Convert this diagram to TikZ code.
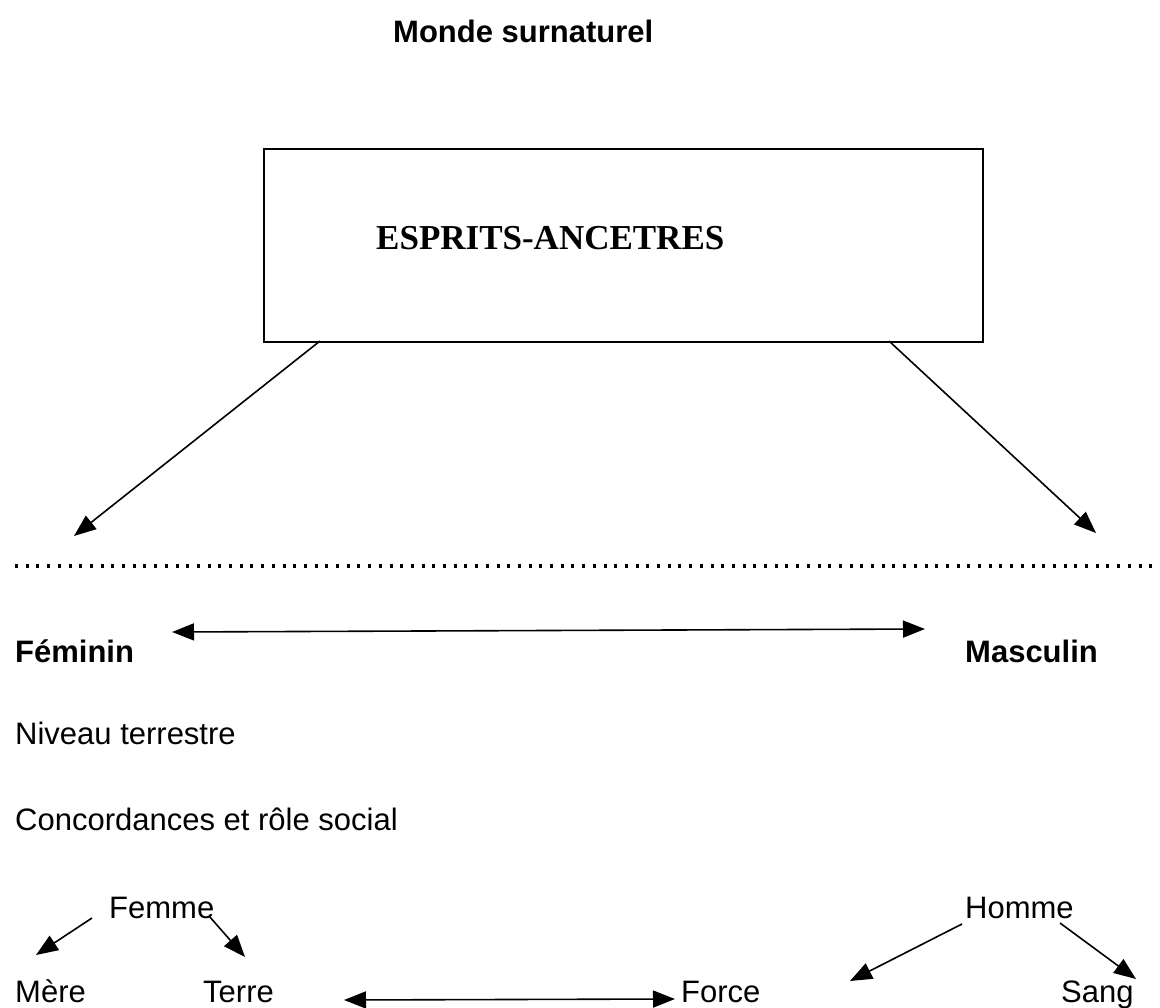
\documentclass[tikz,border=0pt]{standalone}
\usepackage{fontspec}
\setmainfont{Liberation Sans}
\newfontfamily\timesfont{Liberation Serif}
\usetikzlibrary{arrows.meta}
\begin{document}
\begin{tikzpicture}[x=1pt,y=-1pt,
  txt/.style={anchor=base west,inner sep=0pt,font=\fontsize{31}{36}\selectfont},
  btxt/.style={txt,font=\fontsize{31}{36}\selectfont\bfseries},
  arr/.style={line width=1.6pt,-{Triangle[length=22pt,width=17pt]}},
  darr/.style={line width=1.6pt,{Triangle[length=22pt,width=17pt]}-{Triangle[length=22pt,width=17pt]}},
  boxstyle/.style={draw,line width=1.8pt,minimum width=719pt,minimum height=193pt,inner sep=0pt,anchor=north west}]
\useasboundingbox (0,0) rectangle (1160,1008);
\fill[white] (0,0) rectangle (1160,1008);
% title
\node[btxt] (title) at (393,43) {Monde surnaturel};
% box
\node[boxstyle] (box) at (263,148) {};
\node[anchor=base west,inner sep=0pt,font=\timesfont\bfseries\fontsize{35}{40}\selectfont] (esprits) at (376,250) {ESPRITS-ANCETRES};
\coordinate (bl) at (320,341);
\coordinate (br) at (889,341);
\coordinate (fe) at (74,536);
\coordinate (ma) at (1096,533);
\draw[arr] (bl) -- (fe);
\draw[arr] (br) -- (ma);
% dotted line
\coordinate (d1) at (15,566);
\coordinate (d2) at (1160,566);
\draw[line width=3.5pt,dash pattern=on 3pt off 7.7pt] (d1) -- (d2);
% feminin / masculin
\node[btxt] (fem) at (15,662) {Féminin};
\node[btxt] (mas) at (965,662) {Masculin};
\coordinate (da) at (172,632);
\coordinate (db) at (925,629);
\draw[darr] (da) -- (db);
% level texts
\node[txt] (niv) at (15,744) {Niveau terrestre};
\node[txt] (conc) at (15,830) {Concordances et rôle social};
% bottom
\node[txt] (femme) at (109,918) {Femme};
\node[txt] (homme) at (965,918) {Homme};
\node[txt] (mere) at (15,1002) {Mère};
\node[txt] (terre) at (203,1002) {Terre};
\node[txt] (force) at (681,1002) {Force};
\node[txt] (sang) at (1061,1002) {Sang};
\coordinate (f1) at (92,918);
\coordinate (f1t) at (36,955);
\coordinate (f2) at (209,916);
\coordinate (f2t) at (245,957);
\draw[arr] (f1) -- (f1t);
\draw[arr] (f2) -- (f2t);
\coordinate (ta) at (344,1000);
\coordinate (tb) at (675,999);
\draw[darr] (ta) -- (tb);
\coordinate (h1) at (962,924);
\coordinate (h1t) at (850,981);
\coordinate (h2) at (1060,923);
\coordinate (h2t) at (1136,979);
\draw[arr] (h1) -- (h1t);
\draw[arr] (h2) -- (h2t);
\end{tikzpicture}
\end{document}
